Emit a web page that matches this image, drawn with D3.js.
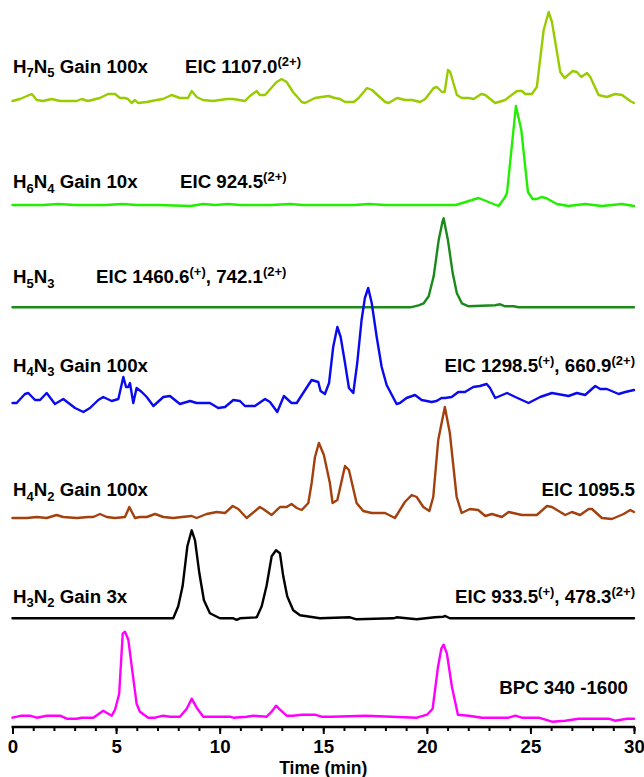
<!DOCTYPE html>
<html>
<head>
<meta charset="utf-8">
<script src="https://cdn.jsdelivr.net/npm/d3@7"></script>
<style>
  html, body { margin: 0; padding: 0; background: #fff; }
  svg { display: block; }
  text { font-family: "Liberation Sans", Arial, Helvetica, sans-serif; font-weight: bold; fill: #000; }
</style>
</head>
<body>
<svg id="chart" width="644" height="777"></svg>
<script>
// ---------------- DATA ----------------
// time (min), relative intensity (a.u., per trace)
const h7n5 = [[0,3],[0.36,5],[0.93,10],[1.17,4],[1.47,3],[1.89,5],[2.29,3],[3.1,3],[3.34,5],[3.64,3],[4.22,6],[4.61,10],[4.95,10],[5.19,6],[5.43,6],[5.57,5],[5.75,1],[5.91,4],[6.06,1],[6.48,2],[6.96,4],[7.26,5],[7.68,9],[8.08,6],[8.47,6],[8.65,13],[8.89,7],[9.19,4],[9.68,3],[10.34,5],[10.64,5],[11.22,3],[11.46,8],[11.79,13],[11.94,9],[12.19,9],[12.75,22],[12.99,25],[13.23,22],[13.54,12],[13.96,2],[14.12,1],[14.6,6],[14.92,7],[15.26,8],[15.56,6],[15.81,5],[16.06,2],[16.47,2],[16.71,6],[17.11,16],[17.35,14],[17.99,2],[18.16,1],[18.56,6],[18.96,4],[19.28,4],[19.68,2],[19.92,5],[20.33,16],[20.49,17],[20.73,12],[20.86,12],[21.02,34],[21.13,32],[21.45,9],[21.69,6],[22.02,6],[22.26,5],[22.63,10],[22.82,9],[23.3,1],[23.78,4],[24.35,13],[24.59,13],[24.75,10],[25.07,10],[25.31,17],[25.64,74],[25.88,92],[26.04,82],[26.44,32],[26.65,26],[27.04,33],[27.24,32],[27.45,27],[27.73,31],[27.89,27],[28.29,9],[28.69,7],[29.09,10],[29.42,9],[29.82,3],[30,1]];
const h6n4 = [[0,1],[1.5,1],[2.2,2],[3,1],[4.5,1],[5.3,2],[6,1],[7,1],[8.6,0],[9.2,2],[9.8,1],[10.4,2],[11,1],[12.5,1],[13.4,2],[14,1],[15.5,1],[16.5,1],[17.2,2],[18,1],[19.5,1],[20.5,1],[21.4,1],[22.5,8],[23.46,0],[23.75,8],[23.87,13],[24.3,100],[24.56,76],[24.88,14],[25.11,7],[25.31,7],[25.52,9],[25.75,8],[26.28,2],[26.84,0],[27.64,2],[28.45,0],[29.42,2],[30,0]];
const h5n3 = [[0,0],[19.2,0],[19.6,2],[19.85,4],[20.09,11],[20.33,31],[20.57,67],[20.76,86],[20.81,89],[21.02,67],[21.25,34],[21.45,14],[21.69,4],[22.02,1],[23.3,2],[23.54,3],[23.78,1],[24.19,1],[24.43,0],[30,0]];
const h4n3 = [[0,10],[0.2,10],[0.6,19],[0.76,20],[1.09,13],[1.33,13],[1.65,20],[2.05,9],[2.45,14],[3.02,5],[3.42,1],[3.74,5],[4.14,13],[4.38,16],[4.79,12],[5.11,14],[5.35,36],[5.48,26],[5.59,26],[5.67,30],[5.75,20],[5.83,10],[5.99,25],[6.24,21],[6.48,16],[6.8,7],[7.28,16],[7.6,17],[8.08,9],[8.57,12],[8.89,10],[9.53,10],[9.93,5],[10.26,6],[10.66,13],[10.98,12],[11.22,7],[11.7,7],[12.19,14],[12.43,11],[12.78,1],[13.1,17],[13.47,10],[13.72,10],[14.03,20],[14.44,33],[14.76,31],[14.87,22],[15.08,19],[15.28,30],[15.48,66],[15.68,86],[15.84,76],[16.05,50],[16.24,25],[16.45,20],[16.64,50],[16.85,93],[17.01,115],[17.17,125],[17.34,110],[17.58,76],[17.82,46],[18.06,28],[18.54,9],[18.7,10],[19.02,15],[19.43,18],[19.75,13],[20.23,11],[20.47,12],[20.71,15],[20.87,15],[21.2,16],[21.52,21],[21.84,21],[22.24,26],[22.56,27],[22.89,29],[23.05,25],[23.3,15],[23.87,20],[24.27,16],[24.91,10],[25.47,16],[26.04,20],[26.84,17],[27.24,20],[27.64,18],[28.13,27],[28.37,24],[28.69,24],[29.26,19],[29.58,21],[30,23]];
const h4n2 = [[0,1],[0.69,1],[1.17,2],[1.65,1],[2.13,4],[2.45,2],[3.1,1],[3.66,2],[3.9,2],[4.22,5],[4.55,2],[4.95,1],[5.43,2],[5.64,12],[5.91,1],[6.15,2],[6.48,2],[6.88,5],[7.28,2],[7.76,1],[8.17,2],[8.65,3],[8.89,1],[9.37,5],[9.86,7],[10.26,6],[10.63,13],[10.9,10],[11.3,1],[11.94,12],[12.1,10],[12.51,4],[12.91,12],[13.23,12],[13.47,15],[13.72,11],[13.96,9],[14.28,16],[14.44,36],[14.6,62],[14.79,76],[15.03,64],[15.32,36],[15.45,16],[15.68,19],[16.05,53],[16.24,49],[16.61,16],[16.93,8],[17.34,6],[17.98,6],[18.46,1],[18.94,17],[19.27,24],[19.51,22],[19.83,12],[20.12,8],[20.31,22],[20.55,79],[20.87,112],[21.11,86],[21.44,22],[21.68,6],[22.08,10],[22.48,9],[22.82,3],[23.14,5],[23.62,2],[23.95,7],[24.59,4],[25.31,4],[25.8,13],[26.04,12],[26.68,4],[27,7],[27.4,4],[27.81,10],[27.97,10],[28.45,1],[28.93,0],[29.5,5],[29.82,9],[30,7]];
const h3n2 = [[0,0],[7.76,0],[8,12],[8.21,32],[8.44,72],[8.65,88],[8.81,78],[9.02,45],[9.24,18],[9.53,5],[10.01,0],[10.66,0],[10.82,-1.5],[10.98,0],[11.79,1],[12.03,12],[12.27,33],[12.51,62],[12.72,68],[12.91,65],[13.07,42],[13.26,22],[13.55,8],[13.88,3],[14.84,0],[16.29,1],[16.61,-1],[18.38,0],[18.54,1],[19.51,-1],[20.39,1],[20.79,1.6],[20.89,2.3],[21.11,0],[21.69,0],[30,0]];
const bpc = [[0,4],[0.44,6],[0.84,6],[1.17,4],[1.65,6],[2.29,6],[2.62,3],[3.1,3],[3.34,4],[3.9,4],[4.38,11],[4.79,6],[4.95,12],[5.15,28],[5.32,88],[5.43,90],[5.59,82],[5.8,48],[5.99,18],[6.15,10],[6.55,4],[6.88,4],[7.28,6],[7.6,5],[8.08,5],[8.41,13],[8.65,23],[8.89,14],[9.21,5],[10.01,5],[10.5,5],[10.66,4],[11.3,5],[11.62,6],[12.27,5],[12.51,10],[12.72,16],[12.91,12],[13.23,6],[13.55,6],[13.96,7],[14.28,7],[14.6,7],[14.92,5],[15.42,5],[17.03,6],[18.32,5],[19.52,4],[20.01,7],[20.28,13],[20.54,55],[20.7,73],[20.81,77],[20.97,68],[21.21,35],[21.5,7],[22.02,6],[22.66,4],[23.95,4],[24.27,6],[24.59,4],[25.4,4],[26.04,0],[26.68,1],[27.33,3],[28.77,3],[29.09,1],[29.66,3],[30,3]];

const traceNames = ["H_7N_5 Gain 100x", "H_6N_4 Gain 10x", "H_5N_3", "H_4N_3 Gain 100x", "H_4N_2 Gain 100x", "H_3N_2 Gain 3x", ""];
const ionLabels  = ["EIC 1107.0^(2+)", "EIC 924.5^(2+)", "EIC 1460.6^(+), 742.1^(2+)", "EIC 1298.5^(+), 660.9^(2+)", "EIC 1095.5", "EIC 933.5^(+), 478.3^(2+)", "BPC 340 -1600"];
const xTicks = [0, 5, 10, 15, 20, 25, 30];
const xTitle = "Time (min)";

// ---------------- LAYOUT / STYLE ----------------
const series = [h7n5, h6n4, h5n3, h4n3, h4n2, h3n2, bpc];
const colors = ["#99cc00", "#22ee00", "#1a8a1a", "#0a0aee", "#a3400d", "#000000", "#ff00ff"];
const baselines = [104, 206, 307.3, 413, 519, 618.3, 721.7];
const labelY = [72.7, 188.3, 283.3, 371.7, 496, 602.7, 694];
const ionX = [185, 180, 96, 635, 635, 635, 628];
const ionAnchor = ["start", "start", "start", "end", "end", "end", "end"];
const FS = 18.7, SUB = 13;

const svg = d3.select("#chart");
const x = d3.scaleLinear().domain([0, 30]).range([12.5, 634]);

series.forEach((data, i) => {
  const y = d3.scaleLinear().domain([0, 100]).range([baselines[i], baselines[i] - 100]);
  const line = d3.line().x(d => x(d[0])).y(d => y(d[1]));
  svg.append("path")
    .datum(data)
    .attr("d", line)
    .attr("fill", "none")
    .attr("stroke", colors[i])
    .attr("stroke-width", 2.4)
    .attr("stroke-linejoin", "round")
    .attr("stroke-linecap", "round");
});

// rich label: _c = subscript single char, ^(...) = superscript group
function richText(sel, str) {
  let i = 0;
  const parts = [];
  while (i < str.length) {
    const c = str[i];
    if (c === "_") { parts.push({t: str[i+1], m: "sub"}); i += 2; continue; }
    if (c === "^") {
      const end = str.indexOf(")", i);
      parts.push({t: str.slice(i+1, end+1), m: "sup"}); i = end + 1; continue;
    }
    let j = i;
    while (j < str.length && str[j] !== "_" && str[j] !== "^") j++;
    parts.push({t: str.slice(i, j), m: "n"}); i = j;
  }
  let cur = 0;
  parts.forEach(p => {
    const target = p.m === "sub" ? 4.5 : p.m === "sup" ? -7 : 0;
    sel.append("tspan")
      .attr("dy", target - cur)
      .style("font-size", (p.m === "n" ? FS : SUB) + "px")
      .text(p.t);
    cur = target;
  });
}

traceNames.forEach((name, i) => {
  if (!name) return;
  const t = svg.append("text").attr("x", 13).attr("y", labelY[i]).style("font-size", FS + "px");
  richText(t, name);
});
ionLabels.forEach((name, i) => {
  const t = svg.append("text").attr("x", ionX[i]).attr("y", labelY[i])
    .attr("text-anchor", ionAnchor[i]).style("font-size", FS + "px");
  richText(t, name);
});

// x axis
const axisY = 727;
const ax = svg.append("g").attr("transform", `translate(0,${axisY})`);
ax.append("g")
  .call(d3.axisBottom(x).tickValues(d3.range(0, 31, 1)).tickSize(4).tickFormat(""))
  .call(g => g.select(".domain").remove())
  .selectAll("line").attr("stroke", "#000").attr("stroke-width", 2);
ax.append("g")
  .call(d3.axisBottom(x).tickValues(xTicks).tickSize(7).tickPadding(6).tickFormat(d3.format("d")))
  .call(g => g.select(".domain").attr("stroke", "#000").attr("stroke-width", 2.5).attr("d", `M${x(0)-1},0H${x(30)+1}`))
  .call(g => g.selectAll("line").attr("stroke", "#000").attr("stroke-width", 2))
  .call(g => g.selectAll("text").style("font-size", FS + "px").style("font-family", "Liberation Sans, Arial, sans-serif").style("font-weight", "bold").attr("fill", "#000"));

svg.append("text")
  .attr("x", x(15)).attr("y", 774)
  .attr("text-anchor", "middle")
  .style("font-size", "17.5px")
  .text(xTitle);
</script>
</body>
</html>
